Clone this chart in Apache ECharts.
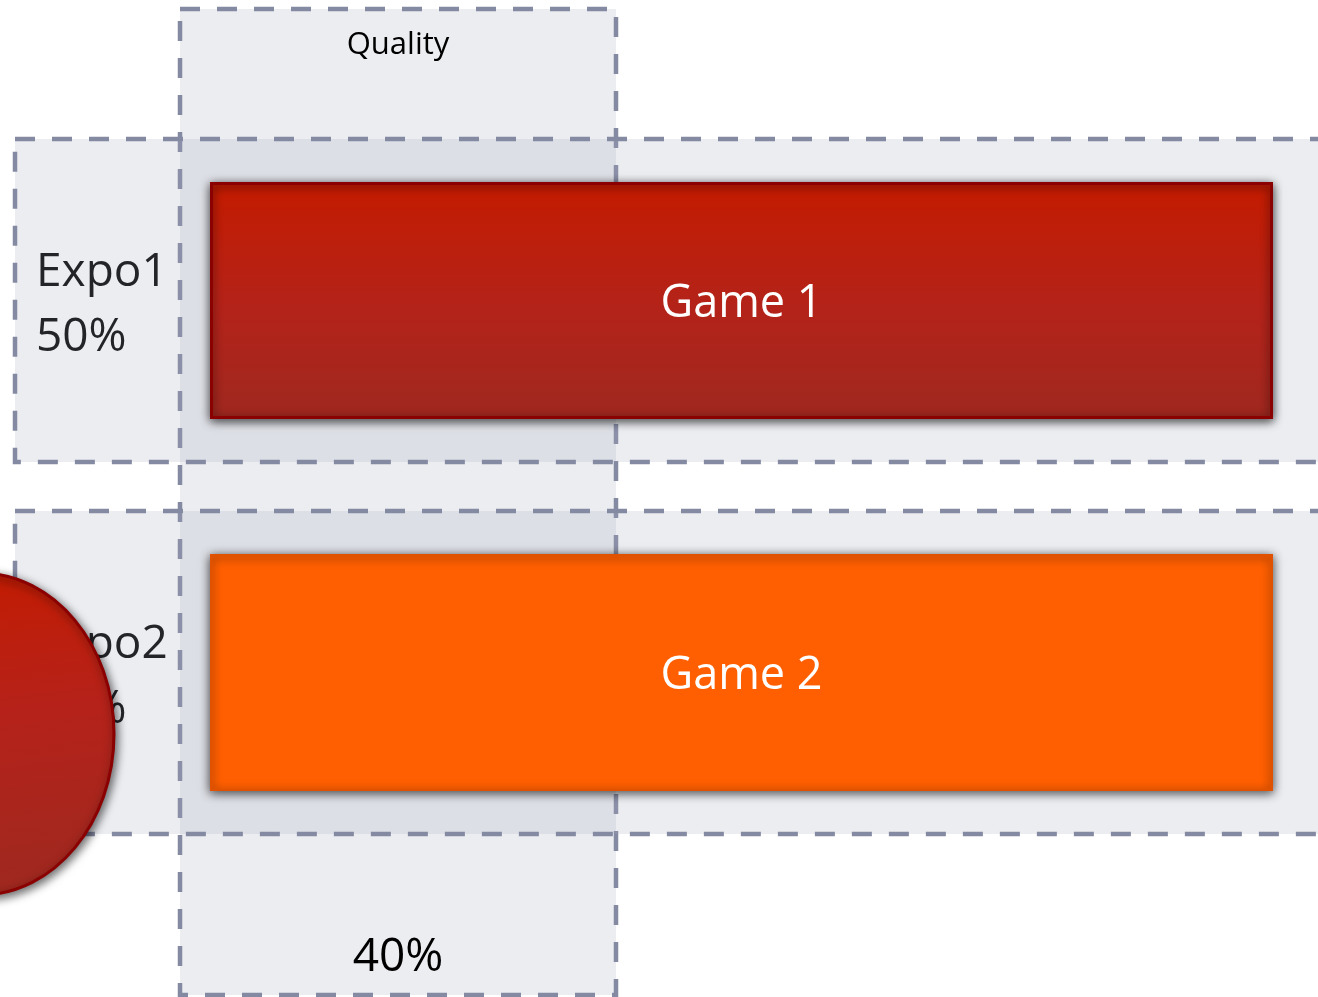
<!DOCTYPE html>
<html><head><meta charset="utf-8">
<script src="https://cdn.jsdelivr.net/npm/echarts@6/dist/echarts.min.js"></script>
<style>html,body{margin:0;padding:0;background:#fff}#c{width:1318px;height:997px}</style>
</head><body><div id="c"></div>
<script>
// ---- data ----
const categories = ['Expo1', 'Expo2'];
const expoShares = ['50%', '50%'];
const games = ['Game 1', 'Game 2'];
const gameValues = [100, 100];
const columnTitle = 'Quality';
const columnShare = '40%';

// ---- styles ----
const FONT = 'Open Sans';
const BOX_FILL = 'rgba(165,169,188,0.21)';
const DASH_COLOR = '#858AA3';
const DASH_W = 4.5;
const DASH = [20, 17];
const barStyles = [
  {
    color: new echarts.graphic.LinearGradient(0, 0, 0, 1, [
      {offset: 0, color: '#C41B00'},
      {offset: 0.55, color: '#B3231A'},
      {offset: 1, color: '#9F281F'}
    ]),
    borderColor: '#8B0000', borderWidth: 3,
    shadowBlur: 10, shadowColor: 'rgba(0,0,0,0.7)', shadowOffsetX: 0, shadowOffsetY: 2
  },
  {
    color: '#FF5F00',
    borderColor: '#E05200', borderWidth: 2,
    shadowBlur: 10, shadowColor: 'rgba(0,0,0,0.7)', shadowOffsetX: 0, shadowOffsetY: 2
  }
];

const chart = echarts.init(document.getElementById('c'), null, {renderer: 'canvas'});

const option = {
  animation: false,
  backgroundColor: '#ffffff',
  grid: {left: 210, right: 45, top: 114.5, bottom: 138.5, containLabel: false},
  xAxis: {type: 'value', min: 0, max: 100, show: false},
  yAxis: {
    type: 'category', data: categories, inverse: true,
    axisLine: {show: false}, axisTick: {show: false}, splitLine: {show: false},
    axisLabel: {
      align: 'left', margin: 174,
      formatter: (v, i) => '{s|}\n{t|' + v + '}\n{t|' + expoShares[i] + '}',
      rich: {
        s: {lineHeight: 9, fontSize: 1},
        t: {color: '#000', fontFamily: FONT, fontSize: 46, lineHeight: 65, align: 'left'}
      }
    }
  },
  series: [
    {
      type: 'custom', z: 1, clip: false,
      data: categories.map((c, i) => [0, i]),
      encode: {x: 0, y: 1},
      renderItem: function (params, api) {
        const cy = api.coord([0, api.value(1)])[1];
        const band = api.size([0, 1])[1];
        const h = band * 322 / 371;
        return {
          type: 'rect',
          shape: {x: 15, y: cy - h / 2, width: 1340, height: h},
          style: {fill: BOX_FILL, stroke: DASH_COLOR, lineWidth: DASH_W, lineDash: DASH}
        };
      }
    },
    {
      type: 'bar', z: 3, barWidth: 237,
      data: gameValues.map((v, i) => ({value: v, itemStyle: barStyles[i]})),
      label: {
        show: true, position: 'inside', offset: [0, 4],
        formatter: p => games[p.dataIndex],
        color: '#fff', fontFamily: FONT, fontSize: 45
      }
    }
  ],
  graphic: [
    {
      type: 'rect', z: 0,
      shape: {x: 180, y: 9, width: 436, height: 986},
      style: {fill: BOX_FILL, stroke: DASH_COLOR, lineWidth: DASH_W, lineDash: DASH}
    },
    {
      type: 'text', z: 5, x: 398, y: 45,
      style: {text: columnTitle, fill: '#000', fontFamily: FONT, fontSize: 31,
        align: 'center', verticalAlign: 'middle', textAlign: 'center', textVerticalAlign: 'middle'}
    },
    {
      type: 'text', z: 5, x: 398, y: 958,
      style: {text: columnShare, fill: '#000', fontFamily: FONT, fontSize: 46,
        align: 'center', verticalAlign: 'middle', textAlign: 'center', textVerticalAlign: 'middle'}
    },
    {
      type: 'ellipse', z: 100,
      shape: {cx: -20, cy: 734, rx: 134, ry: 161},
      style: {
        fill: new echarts.graphic.LinearGradient(0, 0, 0.15, 1, [
          {offset: 0, color: '#C41B00'},
          {offset: 0.5, color: '#B5221A'},
          {offset: 1, color: '#A0281F'}
        ]),
        stroke: '#8B0000', lineWidth: 3,
        shadowBlur: 10, shadowColor: 'rgba(0,0,0,0.6)', shadowOffsetX: 2, shadowOffsetY: 3
      }
    }
  ]
};
chart.setOption(option);
</script>
</body></html>
